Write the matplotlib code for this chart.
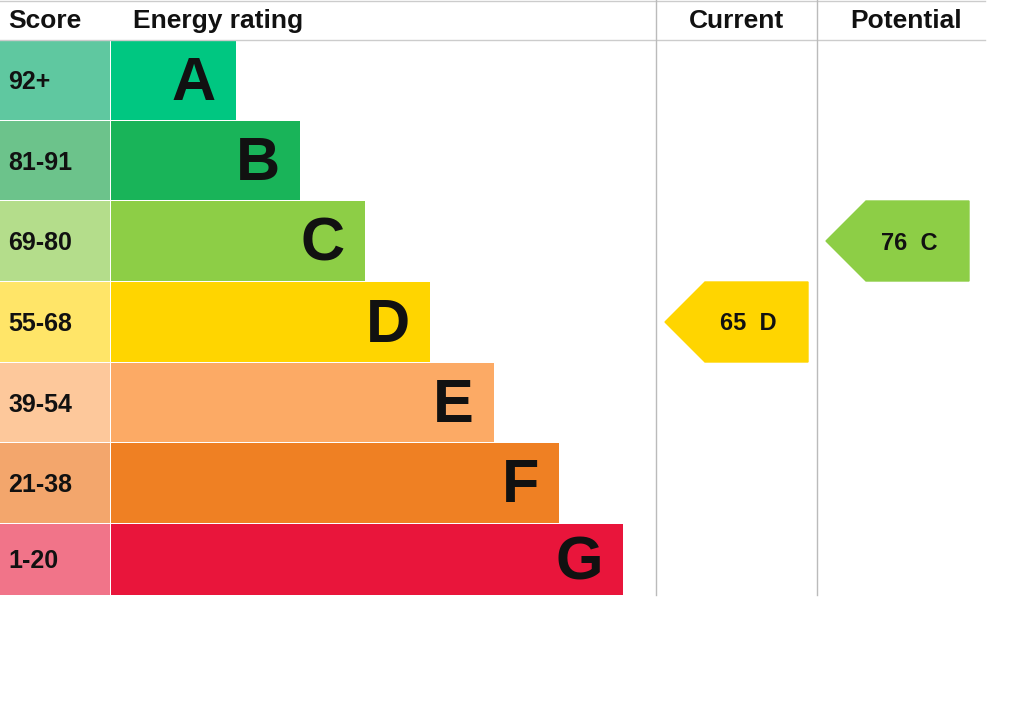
import matplotlib.pyplot as plt
from matplotlib.patches import Polygon

# EPC bands
bands = ["A", "B", "C", "D", "E", "F", "G"]
score_ranges = ["92+", "81-91", "69-80", "55-68", "39-54", "21-38", "1-20"]
bar_ends = [236, 300, 365, 430, 494, 559, 623]
band_colors = ["#00c781", "#19b459", "#8dce46", "#ffd500", "#fcaa65", "#ef8023", "#e9153b"]
score_colors = ["#5fc8a0", "#6cc38b", "#b4dd8b", "#ffe568", "#fdc89b", "#f3a66c", "#f17489"]
current_score, current_band = 65, "D"
potential_score, potential_band = 76, "C"

plt.rcParams["font.family"] = ["Liberation Sans", "DejaVu Sans"]
fig = plt.figure(figsize=(10.24, 7.21), dpi=100)
ax = fig.add_axes([0, 0, 1, 1])
ax.set_xlim(0, 1024)
ax.set_ylim(721, 0)
ax.axis("off")

row_top = [40, 121, 201, 282, 363, 443, 524]
row_bot = [120, 200, 281, 362, 442, 523, 595]

for i, b in enumerate(bands):
    top, bot = row_top[i], row_bot[i]
    ax.barh((top + bot) / 2, 110, height=bot - top, left=0, color=score_colors[i])
    ax.barh((top + bot) / 2, bar_ends[i] - 111, height=bot - top, left=111, color=band_colors[i])
    ax.text(8, (top + bot) / 2 + 2, score_ranges[i], fontsize=18, fontweight="bold",
            va="center", ha="left", color="#111111")
    ax.text(bar_ends[i] - 20, (top + bot) / 2 + 4, b, fontsize=44, fontweight="bold",
            va="center", ha="right", color="#111111")

# headers and grid lines
ax.plot([0, 985], [40, 40], color="#cccccc", lw=1)
ax.plot([0, 985], [1, 1], color="#cccccc", lw=1)
ax.plot([656, 656], [0, 595], color="#bbbbbb", lw=1)
ax.plot([817, 817], [0, 595], color="#bbbbbb", lw=1)
ax.text(8, 21, "Score", fontsize=19, fontweight="bold", va="center", color="#111111")
ax.text(133, 21, "Energy rating", fontsize=19, fontweight="bold", va="center", color="#111111")
ax.text(737, 21, "Current", fontsize=19, fontweight="bold", va="center", ha="center", color="#111111")
ax.text(906, 21, "Potential", fontsize=19, fontweight="bold", va="center", ha="center", color="#111111")

def arrow(x0, x1, band, score):
    i = bands.index(band)
    top, bot = row_top[i], row_bot[i]
    mid = (top + bot) / 2
    pts = [(x0, mid), (x0 + 40, top), (x1, top), (x1, bot), (x0 + 40, bot)]
    ax.add_patch(Polygon(pts, closed=True, color=band_colors[i]))
    ax.text((x0 + x1) / 2 + 12, mid + 2, f"{score}  {band}", fontsize=17,
            fontweight="bold", va="center", ha="center", color="#111111")

arrow(665, 808, current_band, current_score)
arrow(826, 969, potential_band, potential_score)

fig.savefig("out.png", dpi=100)
